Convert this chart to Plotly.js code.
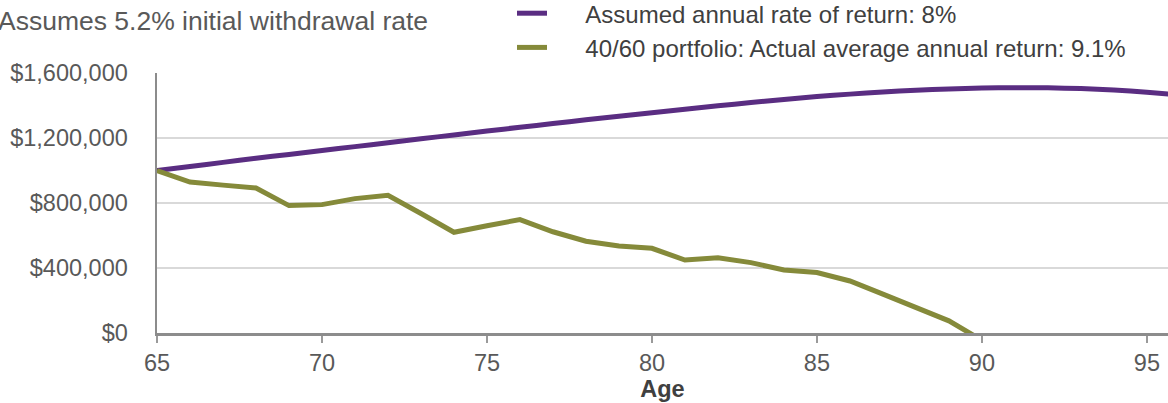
<!DOCTYPE html>
<html>
<head>
<meta charset="utf-8">
<script src="https://cdn.plot.ly/plotly-3.0.1.min.js"></script>
<style>
  html, body { margin: 0; padding: 0; background: #fff; }
  #chart { width: 1168px; height: 403px; }
</style>
</head>
<body>
<div id="chart"></div>
<script>
const ages = [65,66,67,68,69,70,71,72,73,74,75,76,77,78,79,80,81,82,83,84,85,86,87,88,89,90,91,92,93,94,95,96];
const assumedReturn = [1000000,1025000,1050000,1075000,1099000,1123000,1147000,1171000,1195000,1219000,1243000,1266000,1289000,1312000,1334000,1356000,1377000,1398000,1418000,1437000,1455000,1470000,1483000,1494000,1502000,1507000,1510000,1509000,1504000,1495000,1482000,1465000];
const portfolioAges = [65,66,67,68,69,70,71,72,73,74,75,76,77,78,79,80,81,82,83,84,85,86,87,88,89,90];
const portfolioActual = [1000000,929000,910000,892000,784000,790000,827000,847000,735000,620000,660000,698000,623000,565000,535000,521000,449000,463000,433000,388000,372000,320000,239000,157000,75000,-45000];
const xTicks = [65,70,75,80,85,90,95];
const yTicks = [0,400000,800000,1200000,1600000];
const yTickLabels = ['$0','$400,000','$800,000','$1,200,000','$1,600,000'];

const seriesNames = ['Assumed annual rate of return: 8%', '40/60 portfolio: Actual average annual return: 9.1%'];
const titleText = 'Assumes 5.2% initial withdrawal rate';

const FONT = 'Liberation Sans, Arial, sans-serif';
const TEXT = '#595959';
const FS = 23.5;
const GAP = '\u00a0\u00a0\u00a0\u00a0\u00a0';

const traces = [
  {x: ages, y: assumedReturn, type: 'scatter', mode: 'lines', name: GAP + seriesNames[0],
   legendgroup: 'a', line: {color: '#5a2d82', width: 5, shape: 'spline', smoothing: 0.6}, hoverinfo: 'skip'},
  {x: portfolioAges, y: portfolioActual, type: 'scatter', mode: 'lines', name: GAP + seriesNames[1],
   legendgroup: 'b', line: {color: '#858a3a', width: 5}, hoverinfo: 'skip'}
];

const layout = {
  width: 1168, height: 403,
  margin: {l: 157, r: 0, t: 73, b: 70, pad: 0, autoexpand: false},
  paper_bgcolor: '#ffffff', plot_bgcolor: '#ffffff',
  font: {family: FONT, size: FS, color: TEXT},
  showlegend: true,
  legend: {x: (512 - 157) / 1011, xanchor: 'left', y: 1.315, yanchor: 'top', orientation: 'v',
           font: {family: FONT, size: 24, color: '#404040'}, tracegroupgap: 2,
           bgcolor: 'rgba(0,0,0,0)', itemwidth: 30, traceorder: 'normal'},
  annotations: [{text: titleText, xref: 'paper', yref: 'paper', x: -157 / 1011, xanchor: 'left', xshift: -4,
                 y: 1 + (73 - 21) / 260, yanchor: 'middle', showarrow: false,
                 font: {family: FONT, size: 26.5, color: TEXT}}],
  xaxis: {range: [65, 95.64], tickvals: xTicks, ticks: 'outside', ticklen: 7, tickwidth: 1.5,
          tickcolor: '#9a9a9a', showline: true, linecolor: '#8c8c8c', linewidth: 2.5,
          showgrid: false, zeroline: false, tickfont: {family: FONT, size: FS, color: TEXT},
          title: {text: '<b>Age</b>', font: {family: FONT, size: FS, color: '#404040'}, standoff: 5},
          fixedrange: true},
  yaxis: {range: [0, 1600000], tickvals: yTicks, ticktext: yTickLabels, ticks: '',
          showline: true, linecolor: '#8c8c8c', linewidth: 2.5, showgrid: true,
          gridcolor: '#d9d9d9', gridwidth: 2, zeroline: false, ticklabelstandoff: 22,
          tickfont: {family: FONT, size: FS, color: TEXT}, fixedrange: true}
};

Plotly.newPlot('chart', traces, layout, {staticPlot: true, displayModeBar: false});
</script>
</body>
</html>
